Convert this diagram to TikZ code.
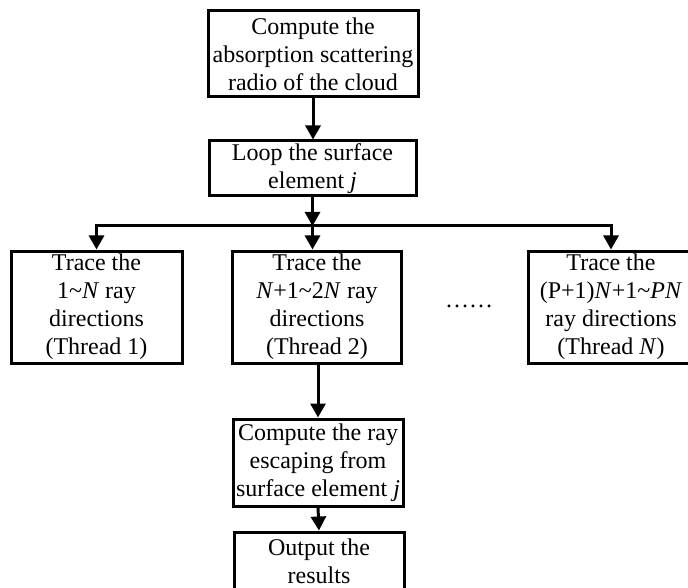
\documentclass[tikz,border=0pt]{standalone}
\usepackage{fontspec}
\setmainfont{Liberation Serif}
\usetikzlibrary{arrows.meta}
\begin{document}
\begin{tikzpicture}[x=1pt,y=1pt,
 box/.style={draw, line width=3pt, align=center, inner sep=0pt, font=\fontsize{24}{28}\selectfont},
 arr/.style={line width=3pt, -{Triangle[length=14pt,width=15pt]}},
]
\useasboundingbox (0,0) rectangle (688,-588);
\clip (0,0) rectangle (688,-588);
\node[box, minimum width=210pt, minimum height=86pt] (b1) at (313,-54)
  {Compute the\\absorption scattering\\radio of the cloud};
\node[box, minimum width=207pt, minimum height=55pt] (b2) at (312.5,-168.5)
  {Loop the surface\\element \textit{j}};
\node[box, minimum width=171pt, minimum height=112pt] (t1) at (96.5,-307)
  {Trace the\\1\textasciitilde\textit{N} ray\\directions\\(Thread 1)};
\node[box, minimum width=169pt, minimum height=112pt] (t2) at (317,-307)
  {Trace the\\\textit{N}+1\textasciitilde 2\textit{N} ray\\directions\\(Thread 2)};
\node[box, minimum width=166pt, minimum height=112pt] (t3) at (611,-307)
  {Trace the\\(P+1)\textit{N}+1\textasciitilde\textit{PN}\\ray directions\\(Thread \textit{N})};
\node[box, minimum width=170pt, minimum height=87pt] (c) at (318,-462.5)
  {Compute the ray\\escaping from\\surface element \textit{j}};
\node[box, minimum width=170pt, minimum height=58pt] (o) at (319,-561)
  {Output the\\results};
\node[font=\fontsize{24}{28}\selectfont, inner sep=0pt] (dots) at (469,-306) {……};
\coordinate (hl) at (312.5,-226);
\draw[arr] (b1.south) -- (b1.south |- b2.north);
\draw[arr] (b2.south) -- (hl);
\draw[arr] (hl) -| (t1.north);
\draw[arr] (hl) -| (t3.north);
\draw[arr] (hl) -- (hl |- t2.north);
\draw[arr] (c.north |- t2.south) -- (c.north);
\draw[arr] (c.south) -- (o.north);
\end{tikzpicture}
\end{document}
